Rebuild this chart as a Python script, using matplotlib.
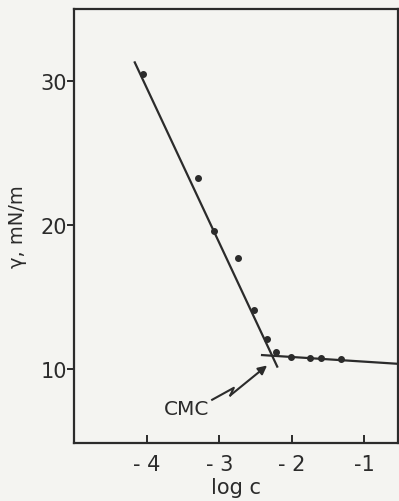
import matplotlib
matplotlib.use('Agg')
import matplotlib.pyplot as plt

log_c = [-4.06, -3.29, -3.08, -2.74, -2.52, -2.34, -2.22, -2.01, -1.75, -1.60, -1.32]
gamma = [30.5, 23.3, 19.6, 17.7, 14.1, 12.1, 11.2, 10.9, 10.8, 10.8, 10.7]

# the two straight lines drawn through the points
steep_x = [-4.17, -2.2]
steep_y = [31.3, 10.2]
flat_x = [-2.41, -0.55]
flat_y = [11.0, 10.4]

# CMC pointer (zigzag) and label
zig_x = [-3.10, -2.80, -2.85, -2.34]
zig_y = [7.9, 8.73, 8.2, 10.28]
cmc_x, cmc_y = -3.46, 7.3

xticks = [-4, -3, -2, -1]
xlabels = ['- 4', '- 3', '- 2', '-1']
yticks = [10, 20, 30]

ink = '#2b2b2b'
paper = '#f4f4f1'
plt.rcParams['axes.unicode_minus'] = False

fig = plt.figure(figsize=(3.99, 5.02), dpi=100, facecolor=paper)
ax = fig.add_axes([0.1855, 0.1155, 0.812, 0.8645], facecolor=paper)

ax.plot(steep_x, steep_y, color=ink, lw=1.6)
ax.plot(flat_x, flat_y, color=ink, lw=1.6)
ax.plot(log_c, gamma, 'o', color=ink, ms=4)

ax.plot(zig_x[:-1], zig_y[:-1], color=ink, lw=1.5)
ax.annotate('', xy=(zig_x[-1], zig_y[-1]), xytext=(zig_x[-2], zig_y[-2]),
            arrowprops=dict(arrowstyle='-|>', color=ink, lw=1.5,
                            mutation_scale=13, shrinkA=0, shrinkB=0))
ax.text(cmc_x, cmc_y, 'CMC', color=ink, fontsize=14.5, ha='center', va='center')

ax.set_xlim(-5.01, -0.53)
ax.set_ylim(4.9, 35)
ax.set_xticks(xticks)
ax.set_xticklabels(xlabels)
ax.set_yticks(yticks)
ax.tick_params(axis='x', direction='in', length=6, width=1.4, colors=ink,
               labelsize=15, pad=8)
ax.tick_params(axis='y', direction='out', length=5, width=1.4, colors=ink,
               labelsize=15, pad=0)
for s in ax.spines.values():
    s.set_color(ink)
    s.set_linewidth(1.6)

ax.set_xlabel('log c', color=ink, fontsize=15, labelpad=2)
ax.set_ylabel('γ, mN/m', color=ink, fontsize=14, labelpad=10)

fig.savefig('out.png', dpi=100, facecolor=paper)
